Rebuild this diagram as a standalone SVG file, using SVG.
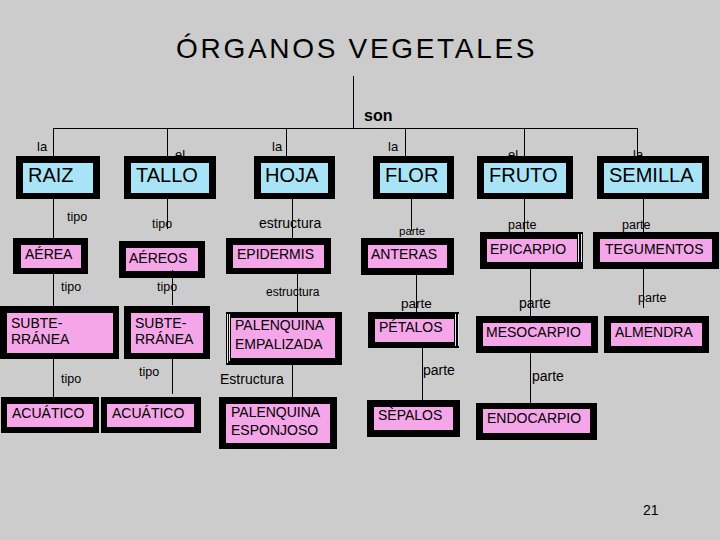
<svg xmlns="http://www.w3.org/2000/svg" width="720" height="540" viewBox="0 0 720 540">
<style>
text{font-family:"Liberation Sans",Arial,sans-serif;fill:#000}
.o{fill:#000}
.b{fill:#a8e4f6}
.p{fill:#f4a6e8}
.t1{font-size:20px}
.t2{font-size:14px}
.lb{font-size:13px}
.hl{stroke:#e6e6e6;stroke-width:1;fill:none}
#connectors path{stroke:#000;stroke-width:1;fill:none}
</style>
<rect width="720" height="540" fill="#cccccc"/>
<text x="176" y="58" font-size="28" letter-spacing="2.7">ÓRGANOS VEGETALES</text>
<g id="labels">
<text x="364" y="121" font-size="16" font-weight="bold">son</text>
<text class="lb" x="37" y="151">la</text>
<text class="lb" x="175" y="159">el</text>
<text class="lb" x="272" y="151">la</text>
<text class="lb" x="388" y="151">la</text>
<text class="lb" x="508" y="159">el</text>
<text class="lb" x="633" y="159">la</text>
</g>
<g id="raiz"><rect class="o" x="16" y="156" width="84" height="43"/><rect class="b" x="23" y="163" width="70" height="30"/><text class="t1" x="28" y="182">RAIZ</text></g>
<g id="tallo"><rect class="o" x="124" y="156" width="92" height="43"/><rect class="b" x="131" y="163" width="78" height="30"/><text class="t1" x="136" y="182">TALLO</text></g>
<g id="hoja"><rect class="o" x="254" y="156" width="81" height="43"/><rect class="b" x="261" y="163" width="67" height="30"/><text class="t1" x="265" y="182">HOJA</text></g>
<g id="flor"><rect class="o" x="373" y="156" width="81" height="43"/><rect class="b" x="380" y="163" width="67" height="30"/><text class="t1" x="385" y="182">FLOR</text></g>
<g id="fruto"><rect class="o" x="477" y="156" width="96" height="43"/><rect class="b" x="484" y="163" width="82" height="30"/><text class="t1" x="489" y="182">FRUTO</text></g>
<g id="semilla"><rect class="o" x="597" y="156" width="112" height="43"/><rect class="b" x="604" y="163" width="98" height="30"/><text class="t1" x="609" y="182">SEMILLA</text></g>
<g id="aerea"><rect class="o" x="13" y="238" width="75" height="36"/><rect class="p" x="21" y="245" width="60" height="23"/><text class="t2" x="25" y="259">AÉREA</text></g>
<g id="aereos"><rect class="o" x="119" y="241" width="86" height="37"/><rect class="p" x="126" y="248" width="72" height="23"/><text class="t2" x="129" y="263">AÉREOS</text></g>
<g id="epidermis"><rect class="o" x="226" y="238" width="105" height="36"/><rect class="p" x="233" y="245" width="91" height="23"/><text class="t2" x="237" y="258.5">EPIDERMIS</text></g>
<g id="anteras"><rect class="o" x="361" y="238" width="93" height="37"/><rect class="p" x="368" y="245" width="79" height="23"/><text class="t2" x="371" y="259">ANTERAS</text></g>
<g id="epicarpio"><rect class="o" x="480" y="232" width="103" height="37"/><rect class="p" x="487" y="239" width="90" height="23"/><path class="hl" d="M578.5,234V262M581.5,234V262"/><text class="t2" x="490" y="253.5">EPICARPIO</text></g>
<g id="tegumentos"><rect class="o" x="593" y="232" width="126" height="37"/><rect class="p" x="600" y="239" width="112" height="23"/><text class="t2" x="605" y="253.5">TEGUMENTOS</text></g>
<g id="subterranea1"><rect class="o" x="0" y="306" width="119" height="53"/><rect class="p" x="7" y="313" width="106" height="40"/><text class="t2" x="11" y="327.5">SUBTE-</text><text class="t2" x="11" y="344">RRÁNEA</text></g>
<g id="subterranea2"><rect class="o" x="124" y="306" width="86" height="53"/><rect class="p" x="131" y="313" width="72" height="40"/><text class="t2" x="135" y="327.5">SUBTE-</text><text class="t2" x="135" y="344">RRÁNEA</text></g>
<g id="empalizada"><rect class="o" x="226" y="312" width="116" height="53"/><rect class="p" x="231" y="318" width="104" height="40"/><path class="hl" d="M227.5,314V363M229.5,314V361"/><text class="t2" x="235" y="329.5">PALENQUINA</text><text class="t2" x="235" y="348.5">EMPALIZADA</text></g>
<g id="petalos"><rect class="o" x="368" y="312" width="91" height="36"/><rect class="p" x="375" y="319" width="79" height="23"/><path class="hl" d="M455.5,314V346M458.5,314V346"/><text class="t2" x="379" y="332">PÉTALOS</text></g>
<g id="mesocarpio"><rect class="o" x="476" y="316" width="122" height="37"/><rect class="p" x="483" y="323" width="108" height="23"/><text class="t2" x="486" y="337">MESOCARPIO</text></g>
<g id="almendra"><rect class="o" x="604" y="316" width="105" height="37"/><rect class="p" x="611" y="323" width="91" height="23"/><text class="t2" x="615" y="337">ALMENDRA</text></g>
<g id="acuatico1"><rect class="o" x="1" y="397" width="98" height="36"/><rect class="p" x="7" y="404" width="86" height="23"/><text class="t2" x="12" y="417.5">ACUÁTICO</text></g>
<g id="acuatico2"><rect class="o" x="101" y="397" width="100" height="36"/><rect class="p" x="107" y="404" width="87" height="23"/><text class="t2" x="112" y="417.5">ACUÁTICO</text></g>
<g id="esponjoso"><rect class="o" x="219" y="397" width="118" height="52"/><rect class="p" x="226" y="404" width="104" height="39"/><text class="t2" x="231" y="417">PALENQUINA</text><text class="t2" x="231" y="435">ESPONJOSO</text></g>
<g id="sepalos"><rect class="o" x="367" y="400" width="93" height="37"/><rect class="p" x="374" y="407" width="79" height="23"/><text class="t2" x="378" y="420">SÈPALOS</text></g>
<g id="endocarpio"><rect class="o" x="476" y="403" width="121" height="37"/><rect class="p" x="483" y="409" width="107" height="24"/><text class="t2" x="487" y="423">ENDOCARPIO</text></g>
<g id="connectors">
<path d="M353.5,76V128.5M53,128.5H637.5M53.5,128V156M167.5,128V156M286.5,128V156M405.5,128V156M524.5,128V156M637.5,128V156"/>
<path d="M53.5,199V238M53.5,274V306M53.5,359V397"/>
<path d="M167.5,199V229M172.5,270V305M172.5,359V394"/>
<path d="M292.5,199V238M297.5,274V312M292.5,365V397"/>
<path d="M411.5,199V231M416.5,275V312M422.5,348V400"/>
<path d="M524.5,199V232M530.5,269V316M530.5,353V403"/>
<path d="M643.5,199V232M643.5,269V308"/>
</g>
<g id="edge-labels">
<text font-size="12.5" x="67" y="221">tipo</text>
<text font-size="12.5" x="61" y="291">tipo</text>
<text font-size="12.5" x="61" y="383">tipo</text>
<text font-size="12.5" x="152" y="228">tipo</text>
<text font-size="12.5" x="157" y="291">tipo</text>
<text font-size="12.5" x="139" y="376">tipo</text>
<text font-size="14" x="259" y="228">estructura</text>
<text font-size="12" x="266" y="296">estructura</text>
<text font-size="14" x="220" y="384">Estructura</text>
<text font-size="11.5" x="399" y="235">parte</text>
<text font-size="13.5" x="401" y="308">parte</text>
<text font-size="14" x="423" y="375">parte</text>
<text font-size="12.5" x="508" y="229">parte</text>
<text font-size="14" x="519" y="308">parte</text>
<text font-size="14" x="532" y="381">parte</text>
<text font-size="12.5" x="622" y="229">parte</text>
<text font-size="12.5" x="638" y="302">parte</text>
<text font-size="14" x="643" y="515">21</text>
</g>
</svg>
